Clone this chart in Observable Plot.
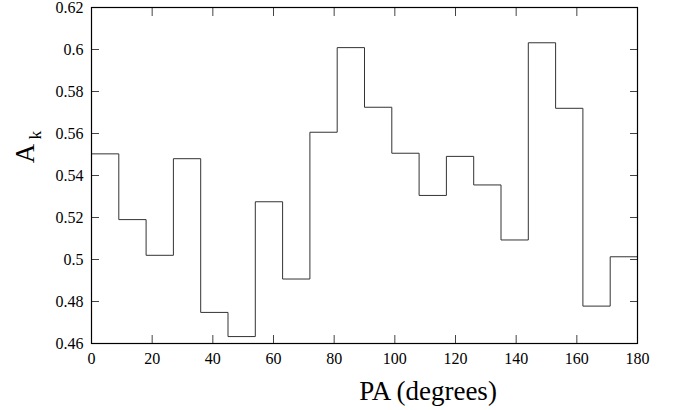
<!DOCTYPE html>
<html><head><meta charset="utf-8">
<script src="https://cdn.jsdelivr.net/npm/d3@7"></script>
<script src="https://cdn.jsdelivr.net/npm/@observablehq/plot@0.6"></script>
<style>body{margin:0;background:#fff} svg text{font-family:"Liberation Serif",serif;}</style>
</head><body><div id="chart"></div>
<script>
const binStart = [0, 9, 18, 27, 36, 45, 54, 63, 72, 81, 90, 99, 108, 117, 126, 135, 144, 153, 162, 171];
const binEnd = 180;
const Ak = [0.5503, 0.519, 0.502, 0.548, 0.4748, 0.4633, 0.5275, 0.4907, 0.5606, 0.6009,
            0.5725, 0.5506, 0.5305, 0.5491, 0.5355, 0.5093, 0.6032, 0.572, 0.4778, 0.5013];
const xTicks = [0, 20, 40, 60, 80, 100, 120, 140, 160, 180];
const yTicks = [0.46, 0.48, 0.5, 0.52, 0.54, 0.56, 0.58, 0.6, 0.62];
const xLabel = "PA (degrees)";
const yLabelMain = "A";
const yLabelSub = "k";

const steps = binStart.map((x, i) => ({x, y: Ak[i]}))
  .concat([{x: binEnd, y: Ak[Ak.length - 1]}]);

const fmt = d => String(+d.toFixed(2));
const blank = () => "";
const serif = "Liberation Serif";

const chart = Plot.plot({
  width: 681,
  height: 410,
  marginLeft: 91,
  marginRight: 44,
  marginTop: 7,
  marginBottom: 67,
  style: {fontFamily: serif, fontSize: "16px", background: "#fff", color: "#000"},
  x: {domain: [0, 180], label: null},
  y: {domain: [0.46, 0.62], label: null},
  marks: [
    Plot.lineY(steps, {x: "x", y: "y", curve: "step-after", stroke: "#333", strokeWidth: 1}),
    Plot.axisX(xTicks, {anchor: "bottom", tickSize: -8, tickPadding: 17.5, fontSize: 16, fontFamily: serif, fontVariant: "normal", label: null, stroke: "#444"}),
    Plot.axisX(xTicks, {anchor: "top", tickSize: -8, tickFormat: blank, label: null, stroke: "#444"}),
    Plot.axisY(yTicks, {anchor: "left", tickSize: -8, tickPadding: 16, tickFormat: fmt, fontSize: 16, fontFamily: serif, fontVariant: "normal", label: null, stroke: "#444"}),
    Plot.axisY(yTicks, {anchor: "right", tickSize: -8, tickFormat: blank, label: null, stroke: "#444"}),
    Plot.frame({stroke: "#000", strokeWidth: 1.2}),
    Plot.text([xLabel], {text: d => d, frameAnchor: "bottom", dx: 63.5, dy: 37, lineAnchor: "top", fontSize: 27, fontFamily: serif, fill: "#000"}),
    Plot.text([yLabelMain], {text: d => d, frameAnchor: "left", rotate: -90, dx: -66.6, dy: -22, lineAnchor: "middle", textAnchor: "middle", fontSize: 27, fontFamily: serif, fill: "#000"}),
    Plot.text([yLabelSub], {text: d => d, frameAnchor: "left", rotate: -90, dx: -56, dy: -40.5, lineAnchor: "middle", textAnchor: "middle", fontSize: 17.5, fontFamily: serif, fill: "#000"})
  ]
});
document.getElementById("chart").appendChild(chart);
</script>
</body></html>
